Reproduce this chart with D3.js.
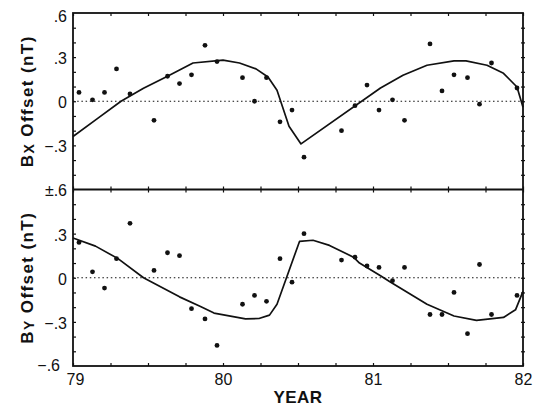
<!DOCTYPE html>
<html>
<head>
<meta charset="utf-8">
<script src="https://cdn.jsdelivr.net/npm/d3@7"></script>
<style>
  html, body { margin: 0; padding: 0; background: #fff; }
  svg { display: block; }
  text { font-family: "Liberation Sans", Arial, sans-serif; fill: #111; }
</style>
</head>
<body>
<svg id="chart" width="543" height="407"></svg>
<script>
// ---- Data ----
// Monthly sample times (decimal years, mid-month)
const monthYears = [79.04, 79.13, 79.21, 79.29, 79.38, 79.54, 79.63, 79.71, 79.79, 79.88,
  79.96, 80.13, 80.21, 80.29, 80.38, 80.46, 80.54, 80.79, 80.88, 80.96,
  81.04, 81.13, 81.21, 81.38, 81.46, 81.54, 81.63, 81.71, 81.79, 81.96];
const bxValues = [0.06, 0.01, 0.06, 0.22, 0.05, -0.13, 0.17, 0.12, 0.18, 0.38,
  0.27, 0.16, 0.00, 0.16, -0.14, -0.06, -0.38, -0.20, -0.03, 0.11,
  -0.06, 0.01, -0.13, 0.39, 0.07, 0.18, 0.16, -0.02, 0.26, 0.09];
const byValues = [0.24, 0.04, -0.07, 0.13, 0.37, 0.05, 0.17, 0.15, -0.21, -0.28,
  -0.46, -0.18, -0.12, -0.16, 0.13, -0.03, 0.30, 0.12, 0.14, 0.08,
  0.07, -0.02, 0.07, -0.25, -0.25, -0.10, -0.38, 0.09, -0.25, -0.12];
// Model curves
const bxCurveYears = [79.00, 79.16, 79.32, 79.47, 79.63, 79.80, 80.00, 80.11, 80.22, 80.30, 80.36,
  80.44, 80.52, 81.05, 81.20, 81.36, 81.54, 81.62, 81.76, 81.87, 81.96, 82.00];
const bxCurveValues = [-0.24, -0.12, 0.00, 0.088, 0.17, 0.26, 0.28, 0.26, 0.22, 0.165, 0.075,
  -0.17, -0.29, 0.09, 0.177, 0.245, 0.274, 0.274, 0.245, 0.19, 0.097, -0.04];
const byCurveYears = [79.00, 79.15, 79.30, 79.47, 79.71, 79.85, 79.94, 80.15, 80.24, 80.31, 80.36,
  80.51, 80.60, 80.71, 80.87, 80.91, 81.05, 81.11, 81.36, 81.54, 81.69, 81.87, 81.95, 82.00];
const byCurveValues = [0.27, 0.215, 0.13, 0.00, -0.13, -0.195, -0.24, -0.28, -0.277, -0.254, -0.18,
  0.247, 0.255, 0.22, 0.14, 0.10, 0.014, -0.025, -0.18, -0.26, -0.29, -0.27, -0.218, -0.093];
// Ticks
const yearTicks = [79, 80, 81, 82];
const quarterTicks = [79, 79.25, 79.5, 79.75, 80, 80.25, 80.5, 80.75, 81, 81.25, 81.5, 81.75, 82];
const topLabelTicks = [0.6, 0.3, 0, -0.3, -0.6];
const topLabelText = [".6", ".3", "0", "\u2212.3", "\u00b1.6"];
const botLabelTicks = [0.3, 0, -0.3, -0.6];
const botLabelText = [".3", "0", "\u2212.3", "\u2212.6"];
const tenthTicks = [-0.5, -0.4, -0.3, -0.2, -0.1, 0, 0.1, 0.2, 0.3, 0.4, 0.5];

// ---- Layout ----
const L = 73, R = 523, T = 13, M = 189.5, B = 366;
const svg = d3.select("#chart");
const x = d3.scaleLinear().domain([79, 82]).range([L, R]);
const yTop = d3.scaleLinear().domain([-0.6, 0.6]).range([M, T]);
const yBot = d3.scaleLinear().domain([-0.6, 0.6]).range([B, M]);

function styleTicks(g) {
  g.select(".domain").remove();
  g.selectAll(".tick line").attr("stroke", "#111").attr("stroke-width", 1.2);
}

// Tenth ticks on left (inward) and right (crossing) for each panel
[yTop, yBot].forEach(y => {
  svg.append("g").attr("transform", `translate(${L},0)`)
    .call(d3.axisLeft(y).tickValues(tenthTicks).tickSize(-3).tickFormat(""))
    .call(styleTicks);
  svg.append("g").attr("transform", `translate(${R + 2},0)`)
    .call(d3.axisLeft(y).tickValues(tenthTicks).tickSize(4).tickFormat(""))
    .call(styleTicks);
});

// Quarter ticks: top border (down), middle line (crossing), bottom axis (up)
svg.append("g").attr("transform", `translate(0,${T})`)
  .call(d3.axisBottom(x).tickValues(quarterTicks).tickSize(3).tickFormat(""))
  .call(styleTicks);
svg.append("g").attr("transform", `translate(0,${M - 3})`)
  .call(d3.axisBottom(x).tickValues(quarterTicks).tickSize(6).tickFormat(""))
  .call(styleTicks);
svg.append("g").attr("transform", `translate(0,${B})`)
  .call(d3.axisBottom(x).tickValues(quarterTicks).tickSize(-3).tickFormat(""))
  .call(styleTicks);

// Frames
svg.append("rect").attr("x", L).attr("y", T).attr("width", R - L).attr("height", B - T)
  .attr("fill", "none").attr("stroke", "#111").attr("stroke-width", 1.8);
svg.append("line").attr("x1", L).attr("x2", R).attr("y1", M).attr("y2", M)
  .attr("stroke", "#111").attr("stroke-width", 1.8);

// Zero lines (dotted)
[yTop, yBot].forEach(y => {
  svg.append("line").attr("x1", L).attr("x2", R).attr("y1", y(0)).attr("y2", y(0))
    .attr("stroke", "#111").attr("stroke-width", 1.2).attr("stroke-dasharray", "1.5,2.7");
});

// Y tick labels
function yLabels(y, vals, texts) {
  const g = svg.append("g").attr("transform", `translate(${L},0)`)
    .call(d3.axisLeft(y).tickValues(vals).tickSize(0).tickPadding(6)
      .tickFormat((d, i) => texts[i]));
  g.select(".domain").remove();
  g.selectAll("text").attr("font-size", 16).attr("fill", "#111")
    .attr("font-family", "Liberation Sans, Arial, sans-serif")
    .attr("dy", d => (d === 0.6 ? "0.55em" : "0.4em"));
  return g;
}
yLabels(yTop, topLabelTicks, topLabelText);
const gb = yLabels(yBot, botLabelTicks, botLabelText);
gb.selectAll("text").filter(d => d === -0.6).attr("x", -13).attr("dy", "0.3em");

// X tick labels
const gx = svg.append("g").attr("transform", `translate(0,${B})`)
  .call(d3.axisBottom(x).tickValues(yearTicks).tickSize(0).tickPadding(8).tickFormat(d => d));
gx.select(".domain").remove();
gx.selectAll("text").attr("font-size", 16).attr("fill", "#111")
  .attr("font-family", "Liberation Sans, Arial, sans-serif");
gx.selectAll("text").filter(d => d === 79).attr("x", 2);

// Curves
const lineTop = d3.line().x(d => x(d[0])).y(d => yTop(d[1]));
const lineBot = d3.line().x(d => x(d[0])).y(d => yBot(d[1]));
svg.append("path").datum(d3.zip(bxCurveYears, bxCurveValues)).attr("d", lineTop)
  .attr("fill", "none").attr("stroke", "#111").attr("stroke-width", 1.7).attr("stroke-linejoin", "round");
svg.append("path").datum(d3.zip(byCurveYears, byCurveValues)).attr("d", lineBot)
  .attr("fill", "none").attr("stroke", "#111").attr("stroke-width", 1.7).attr("stroke-linejoin", "round");

// Points
svg.append("g").selectAll("circle").data(d3.zip(monthYears, bxValues)).join("circle")
  .attr("cx", d => x(d[0])).attr("cy", d => yTop(d[1])).attr("r", 2.4).attr("fill", "#111");
svg.append("g").selectAll("circle").data(d3.zip(monthYears, byValues)).join("circle")
  .attr("cx", d => x(d[0])).attr("cy", d => yBot(d[1])).attr("r", 2.4).attr("fill", "#111");

// Axis titles
function yTitle(cy, sub) {
  const t = svg.append("text")
    .attr("transform", `translate(33,${cy}) rotate(-90)`)
    .attr("text-anchor", "middle").attr("font-size", 17).attr("font-weight", "bold")
    .attr("letter-spacing", 1.4);
  t.append("tspan").text("B");
  t.append("tspan").attr("font-size", 14).attr("dy", 1).text(sub);
  t.append("tspan").attr("dy", -1).text(" Offset (nT)");
}
yTitle((T + M) / 2, "X");
yTitle((M + B) / 2, "Y");

svg.append("text").attr("x", (L + R) / 2).attr("y", 403)
  .attr("text-anchor", "middle").attr("font-size", 17).attr("font-weight", "bold")
  .attr("letter-spacing", 0.5).text("YEAR");
</script>
</body>
</html>
